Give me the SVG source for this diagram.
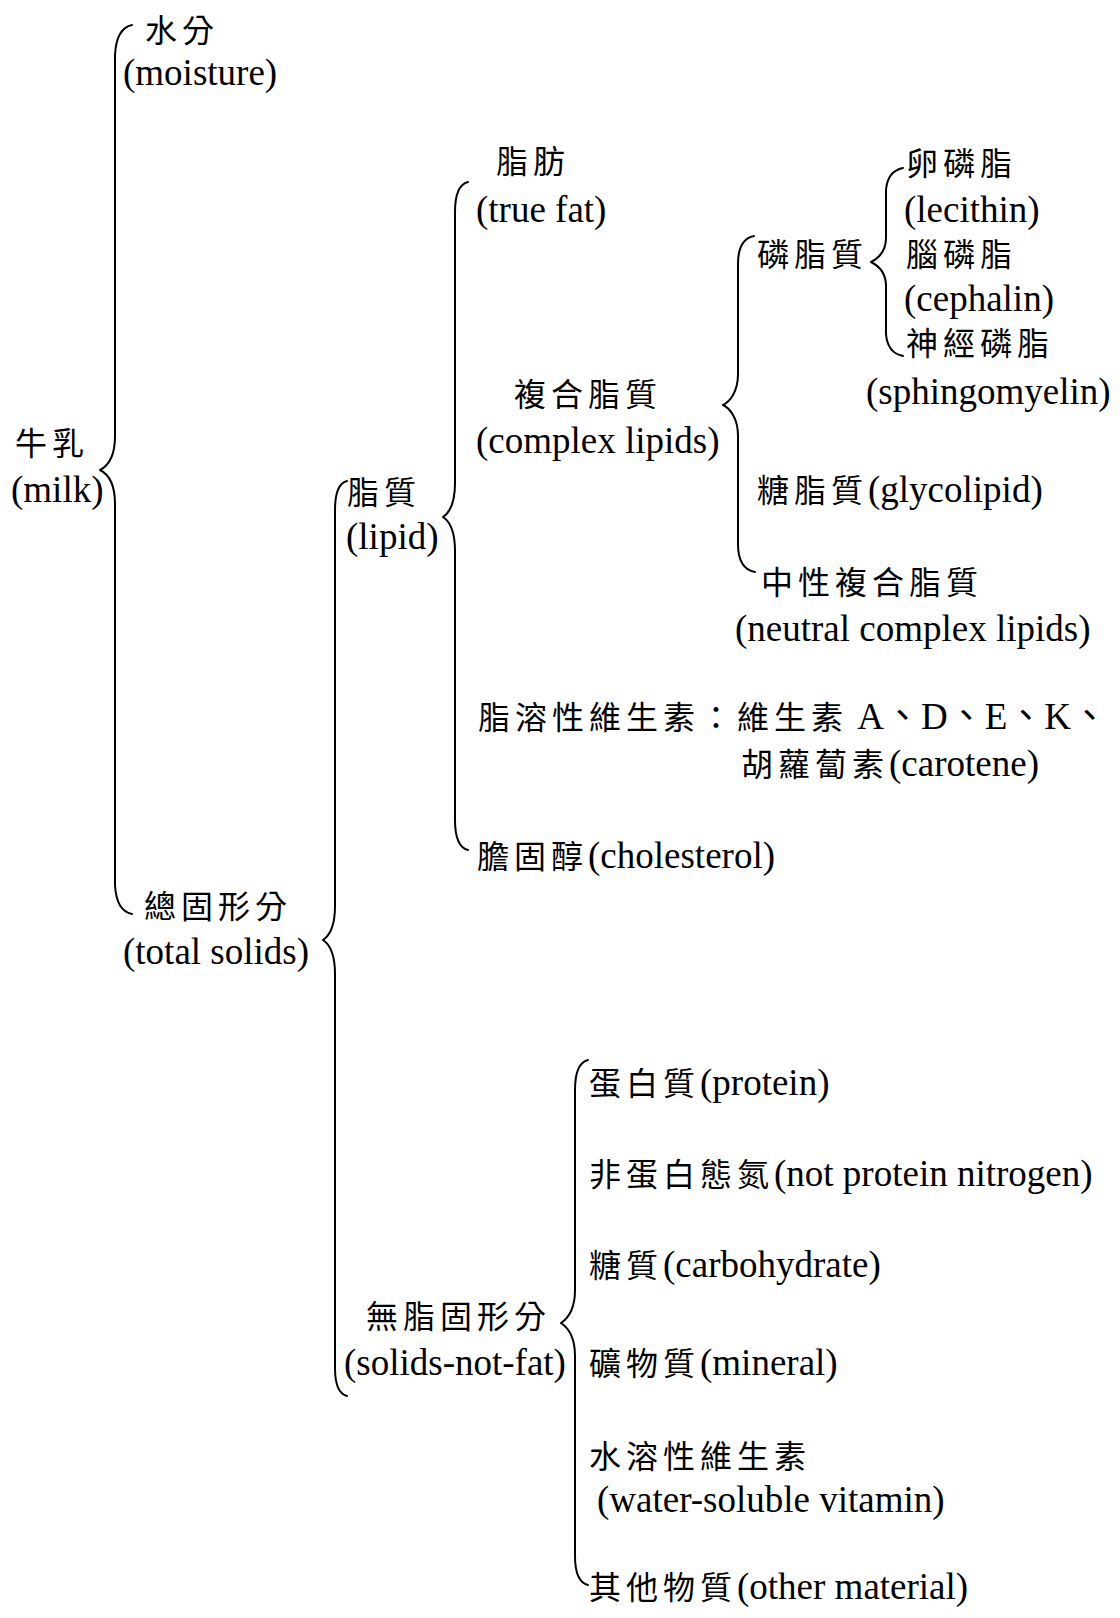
<svg xmlns="http://www.w3.org/2000/svg" width="1120" height="1618" viewBox="0 0 1120 1618">
<style>
.t{font-family:"Liberation Serif","Noto Sans CJK TC",serif;font-size:37px;fill:#000}
.z{font-family:"Noto Sans CJK TC","Noto Sans CJK SC",sans-serif;font-size:32px;letter-spacing:5px}
.br{fill:none;stroke:#000;stroke-width:2;stroke-linecap:round;stroke-linejoin:round}
</style>
<rect x="0" y="0" width="1120" height="1618" fill="#fff"/>
<g id="connectors">
<path class="br" d="M132,25 C122,27 116,36 115,55 L115,436 C115,456 108,466 100,470 C108,474 115,484 115,504 L115,885 C116,904 122,912 132,914"/>
<path class="br" d="M347,481 C339,483 335,492 335,510 L335,906 C335,926 329,936 323,940 C329,944 335,954 335,974 L335,1368 C335,1386 339,1394 347,1396"/>
<path class="br" d="M468,182 C460,184 455,193 455,212 L455,483 C455,503 449,513 443,517 C449,521 455,531 455,551 L455,820 C455,839 460,848 468,850"/>
<path class="br" d="M754,236 C744,238 738,247 738,264 L738,374 C738,393 729,402 723,405 C729,408 738,417 738,436 L738,544 C738,562 744,570 755,572"/>
<path class="br" d="M903,168 C893,170 887,177 886,190 L886,238 C886,252 877,259 871,262 C877,265 886,272 886,286 L886,334 C887,347 893,354 903,356"/>
<path class="br" d="M588,1060 C580,1062 575,1071 575,1090 L575,1290 C575,1310 567,1319 561,1323 C567,1327 575,1336 575,1356 L575,1556 C575,1575 580,1583 588,1585"/>
</g>
<g id="milk"><text class="t" x="15" y="455"><tspan class="z">牛乳</tspan></text><text class="t" x="11" y="502">(milk)</text></g>
<g id="moisture"><text class="t" x="145" y="42"><tspan class="z">水分</tspan></text><text class="t" x="123" y="85">(moisture)</text></g>
<g id="total-solids"><text class="t" x="144" y="918"><tspan class="z">總固形分</tspan></text><text class="t" x="123" y="964">(total solids)</text></g>
<g id="lipid"><text class="t" x="347" y="504"><tspan class="z">脂質</tspan></text><text class="t" x="346" y="549">(lipid)</text></g>
<g id="true-fat"><text class="t" x="496" y="173"><tspan class="z">脂肪</tspan></text><text class="t" x="476" y="222">(true fat)</text></g>
<g id="complex-lipids"><text class="t" x="514" y="406"><tspan class="z">複合脂質</tspan></text><text class="t" x="476" y="453">(complex lipids)</text></g>
<g id="phospholipid"><text class="t" x="757" y="266"><tspan class="z">磷脂質</tspan></text></g>
<g id="lecithin"><text class="t" x="906" y="175"><tspan class="z">卵磷脂</tspan></text><text class="t" x="904" y="222">(lecithin)</text></g>
<g id="cephalin"><text class="t" x="906" y="266"><tspan class="z">腦磷脂</tspan></text><text class="t" x="904" y="311">(cephalin)</text></g>
<g id="sphingomyelin"><text class="t" x="906" y="355"><tspan class="z">神經磷脂</tspan></text><text class="t" x="866" y="404">(sphingomyelin)</text></g>
<g id="glycolipid"><text class="t" x="757" y="502"><tspan class="z">糖脂質</tspan>(glycolipid)</text></g>
<g id="neutral-complex-lipids"><text class="t" x="761" y="594"><tspan class="z">中性複合脂質</tspan></text><text class="t" x="735" y="641">(neutral complex lipids)</text></g>
<g id="fat-soluble-vitamin"><text class="t" x="478" y="729"><tspan class="z">脂溶性維生素：維生素</tspan> A、D、E、K、</text><text class="t" x="741" y="776"><tspan class="z">胡蘿蔔素</tspan>(carotene)</text></g>
<g id="cholesterol"><text class="t" x="477" y="868"><tspan class="z">膽固醇</tspan>(cholesterol)</text></g>
<g id="solids-not-fat"><text class="t" x="366" y="1328"><tspan class="z">無脂固形分</tspan></text><text class="t" x="344" y="1375">(solids-not-fat)</text></g>
<g id="protein"><text class="t" x="589" y="1095"><tspan class="z">蛋白質</tspan>(protein)</text></g>
<g id="npn"><text class="t" x="589" y="1186"><tspan class="z">非蛋白態氮</tspan>(not protein nitrogen)</text></g>
<g id="carbohydrate"><text class="t" x="589" y="1277"><tspan class="z">糖質</tspan>(carbohydrate)</text></g>
<g id="mineral"><text class="t" x="589" y="1375"><tspan class="z">礦物質</tspan>(mineral)</text></g>
<g id="water-soluble-vitamin"><text class="t" x="589" y="1468"><tspan class="z">水溶性維生素</tspan></text><text class="t" x="597" y="1512">(water-soluble vitamin)</text></g>
<g id="other-material"><text class="t" x="589" y="1599"><tspan class="z">其他物質</tspan>(other material)</text></g>
</svg>
